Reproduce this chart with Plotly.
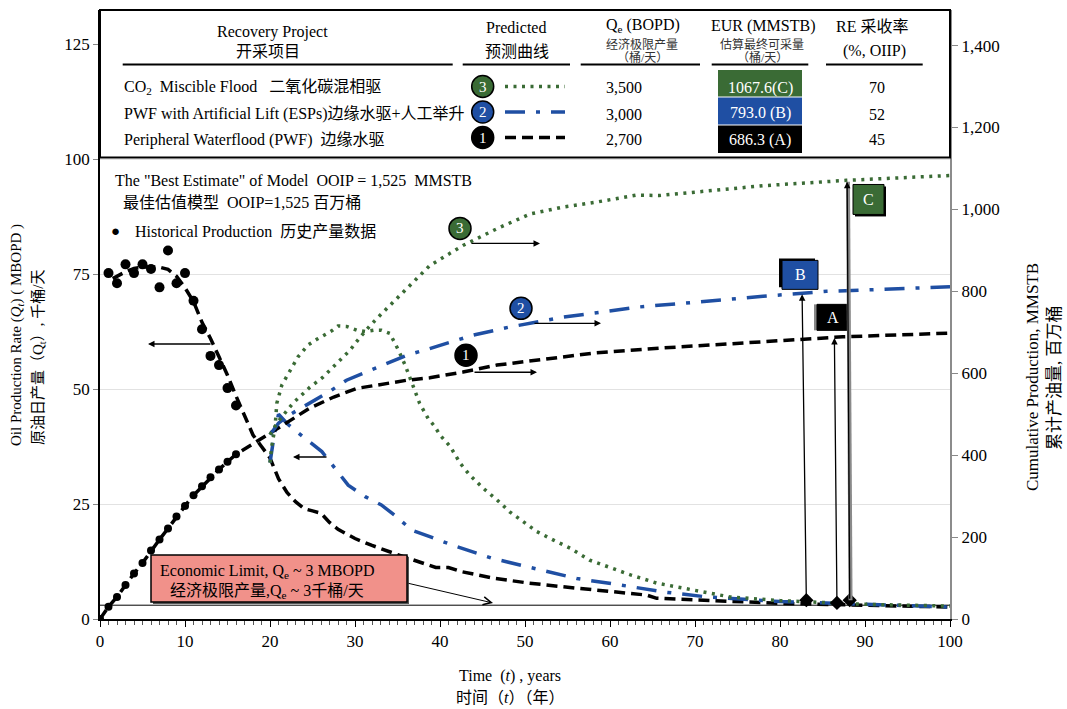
import plotly.graph_objects as go

# ---------------- data ----------------
hist_t = [1, 2, 3, 4, 5, 6, 7, 8, 9, 10, 11, 12, 13, 14, 15, 16]
hist_rate = [75.2, 73.0, 77.1, 75.2, 77.1, 76.1, 72.1, 80.1, 73.0, 75.2, 69.2, 63.0, 57.2, 55.2, 50.2, 46.4]
hist_cum_t = [0, 1, 2, 3, 4, 5, 6, 7, 8, 9, 10, 11, 12, 13, 14, 15, 16]
hist_cum = [0, 30, 54, 83, 111, 137, 167, 194, 221, 250, 276, 302, 324, 346, 365, 384, 402]

pwf_rate_t = [1.5, 2, 3, 4, 5, 6, 7, 8, 9, 10, 11, 12, 13, 14, 15, 16, 17, 18, 19, 20, 21, 22, 23, 24, 25, 26,
              27, 28, 30, 32, 35, 38, 39.5, 41, 42.5, 46.5, 50.5, 54.5, 58.5, 62.5, 64.3, 65.5, 70, 74, 80, 90, 100]
pwf_rate = [74, 74.5, 75.5, 76.2, 76.5, 76.6, 76.5, 76, 74.5, 72, 69, 64.5, 61, 57, 53, 48.5, 44, 40, 37.5, 35,
            30.5, 27.5, 25.5, 24, 23.5, 23, 21, 19.5, 17.5, 16, 14, 12, 11.2, 11.2, 10.3, 8.8, 7.8, 7.0, 6.3, 5.7,
            5.2, 4.5, 4.1, 3.8, 3.4, 3.0, 2.6]
pwf_fc_t = [17.4, 20, 22.4, 24.6, 27.5, 30.2, 33.3, 36.1, 38.8, 42.7, 46.7, 51.8, 58.4, 66.3, 74.1, 77.6, 87.4, 100]
pwf_fc_cum = [420, 453, 485, 514, 542, 563, 573, 583, 589, 603, 620, 633, 650, 662, 672, 676, 689, 698]

esp_rate_t = [20, 20.5, 21, 22, 23.9, 26.1, 27.8, 29.2, 31.2, 33.1, 34.9, 36.7, 38.8, 41.4, 46.1, 51, 56.1, 61.2,
              66.2, 71.4, 74.1, 80, 90, 100]
esp_rate = [34, 40, 44.5, 42.5, 39.6, 36.4, 32.4, 29.1, 26.6, 24.8, 22.2, 19.3, 17.9, 16.1, 13.2, 11, 8.8, 7.4,
            5.9, 4.8, 4.5, 3.8, 3.2, 2.6]
esp_cum_t = [20, 21, 22, 23.9, 26.9, 29, 31.4, 33.7, 36.1, 38.6, 41.1, 43.9, 48.2, 54.5, 59.2, 63.5, 68.6, 74.1,
             78, 85.5, 100]
esp_cum = [450, 478, 495, 518, 554, 583, 603, 624, 644, 659, 675, 693, 713, 737, 750, 762, 771, 782, 788, 800, 811]

co2_rate_t = [20, 20.2, 20.6, 20.8, 21.4, 21.8, 22.4, 23.3, 24.5, 25.5, 27.3, 28, 29, 30.2, 31.2, 32.2, 33.1, 34.1,
              34.5, 35.1, 35.9, 36.9, 37.6, 38.6, 39.4, 40, 41.2, 42.4, 43.5, 45.1, 46.7, 48.2, 49.8, 51.4, 53.3,
              55.3, 57.6, 59.6, 62.4, 65.5, 68.6, 71.8, 74.1, 80, 90, 100]
co2_rate = [34, 37.5, 41.8, 46.9, 50.9, 52.3, 54.1, 57, 59.6, 60.8, 62.7, 63.7, 63.6, 62.8, 62.5, 62.8, 62.8, 62.1,
            60.7, 58.5, 55.2, 50.5, 46.9, 43.6, 41.8, 40, 37.5, 33.8, 31.3, 28.4, 25.9, 23.3, 21.2, 19, 17.2,
            15.4, 12.8, 11.4, 9.6, 7.8, 6.7, 5.6, 4.8, 4.0, 3.2, 2.8]
co2_cum_t = [20, 20.8, 22.7, 24.7, 26.2, 27.9, 29.4, 30.6, 31.8, 33.3, 34.7, 36.5, 38.8, 42.7, 46.7, 50.6, 54.5,
             58.4, 63.1, 65.8, 70.2, 74.1, 78, 87.8, 100]
co2_cum = [450, 478, 527, 566, 590, 624, 656, 688, 717, 749, 778, 815, 863, 912, 953, 989, 1006, 1018, 1035, 1034,
           1042, 1050, 1058, 1071, 1083]

econ_limit = 3.0

# table rows (order: CO2, ESP, PWF)
projects = ["CO<sub>2</sub>\u00a0 Miscible Flood \u00a0 二氧化碳混相驱",
            "PWF with Artificial Lift (ESPs)边缘水驱+人工举升",
            "Peripheral Waterflood (PWF)\u00a0 边缘水驱"]
proj_ids = ["3", "2", "1"]
qe_bopd = ["3,500", "3,000", "2,700"]
eur_text = ["1067.6(C)", "793.0 (B)", "686.3 (A)"]
re_pct = ["70", "52", "45"]

# flags: A, B, C
flag_names = ["A", "B", "C"]
flag_eur = [686.3, 793.0, 1067.6]
flag_t_top = [86.4, 82.6, 87.9]
flag_t_bot = [86.7, 83.1, 88.2]
flag_q_bot = [3.5, 4.1, 4.1]

# ---------------- styles ----------------
FONT = "Liberation Serif, Noto Sans CJK SC, serif"
FONT_EN = "Liberation Serif, serif"
GREEN = "#3A6B35"
BLUE = "#1F4FA3"
PINK = "#F1918A"
Y1MAX = 132.4
Y2MAX = 1487.0
DASH_PWF = "11px,6px"
DASH_ESP = "20px,11px,4px,11px"
DASH_CO2 = "3px,5.5px"


def PX(px):
    return (px - 100) / 850.0


def PY(py):
    return (619 - py) / 609.0


def T(px):
    return (px - 100) / 8.5


def Q(py):
    return (619 - py) / 4.6


def C(py):
    return (619 - py) / 0.41


fig = go.Figure()

# cumulative curves (right axis)
fig.add_trace(go.Scatter(x=hist_cum_t + pwf_fc_t, y=hist_cum + pwf_fc_cum, yaxis="y2", mode="lines",
                         line=dict(color="black", width=3.5, dash=DASH_PWF)))
fig.add_trace(go.Scatter(x=esp_cum_t, y=esp_cum, yaxis="y2", mode="lines",
                         line=dict(color=BLUE, width=3.5, dash=DASH_ESP)))
fig.add_trace(go.Scatter(x=co2_cum_t, y=co2_cum, yaxis="y2", mode="lines",
                         line=dict(color=GREEN, width=3.5, dash=DASH_CO2)))
fig.add_trace(go.Scatter(x=hist_cum_t, y=hist_cum, yaxis="y2", mode="markers",
                         marker=dict(color="black", size=8)))

# rate curves (left axis)
fig.add_trace(go.Scatter(x=[0, 100], y=[econ_limit, econ_limit], mode="lines",
                         line=dict(color="black", width=1)))
fig.add_trace(go.Scatter(x=pwf_rate_t, y=pwf_rate, mode="lines",
                         line=dict(color="black", width=3.5, dash=DASH_PWF)))
fig.add_trace(go.Scatter(x=esp_rate_t, y=esp_rate, mode="lines",
                         line=dict(color=BLUE, width=3.5, dash=DASH_ESP)))
fig.add_trace(go.Scatter(x=co2_rate_t, y=co2_rate, mode="lines",
                         line=dict(color=GREEN, width=3.5, dash=DASH_CO2)))
fig.add_trace(go.Scatter(x=hist_t, y=hist_rate, mode="markers",
                         marker=dict(color="black", size=10)))
fig.add_trace(go.Scatter(x=flag_t_bot, y=flag_q_bot, mode="markers",
                         marker=dict(color="black", size=11, symbol="diamond")))

shapes = []
annotations = []


def ann(text, x, y, xref="paper", yref="paper", size=16, color="black", xanchor="center", yanchor="middle",
        family=FONT, **kw):
    d = dict(text=text, x=x, y=y, xref=xref, yref=yref, showarrow=False, xanchor=xanchor, yanchor=yanchor,
             font=dict(family=family, size=size, color=color))
    d.update(kw)
    annotations.append(d)


def arrow(x_head, y_head, x_tail, y_tail, yref="y", head=2, width=1.3, size=1.0, color="black"):
    annotations.append(dict(text="", x=x_head, y=y_head, ax=x_tail, ay=y_tail, xref="x", yref=yref,
                            axref="x", ayref=yref, showarrow=True, arrowhead=head, arrowsize=size,
                            arrowwidth=width, arrowcolor=color, standoff=0, startstandoff=0))


def circle(x, y, xref, yref, fill, label, d=22):
    shapes.append(dict(type="circle", xref=xref, yref=yref, xsizemode="pixel", ysizemode="pixel",
                       xanchor=x, yanchor=y, x0=-d / 2, x1=d / 2, y0=-d / 2, y1=d / 2,
                       fillcolor=fill, line=dict(color="black", width=1.5), layer="above"))
    ann(label, x, y, xref=xref, yref=yref, size=15, color="white", family=FONT_EN)


# ---------------- economic limit box ----------------
shapes.append(dict(type="rect", xref="x", yref="y", x0=T(153), x1=T(409), y0=Q(604), y1=Q(557),
                   fillcolor="#555555", line=dict(width=0), layer="above"))
shapes.append(dict(type="rect", xref="x", yref="y", x0=T(151), x1=T(407), y0=Q(602), y1=Q(555),
                   fillcolor=PINK, line=dict(color="black", width=1.5), layer="above"))
ann("Economic Limit, Q<sub>e</sub> ~ 3 MBOPD", T(267), Q(571), xref="x", yref="y", size=16)
ann("经济极限产量,Q<sub>e</sub> ~ 3千桶/天", T(267), Q(591), xref="x", yref="y", size=16)
arrow(T(493), Q(603), T(407), Q(583), head=5, width=1, size=1.6)

# ---------------- direction arrows ----------------
arrow(T(148), Q(344), T(212), Q(344))
arrow(T(293), Q(457), T(328), Q(457))
arrow(T(540), C(243), T(470), C(243), yref="y2")
arrow(T(601), C(323), T(533), C(323), yref="y2")
arrow(T(537), C(372), T(473), C(372), yref="y2")

# curve labels
circle(T(460), C(228), "x", "y2", GREEN, "3")
circle(T(521), C(308), "x", "y2", BLUE, "2")
circle(T(466), C(355), "x", "y2", "black", "1")

# ---------------- EUR flags ----------------
flag_boxes = {"A": (T(817), T(849), C(330), C(304), "black", "#888888", -3, 0),
              "B": (T(782), T(818), C(289), C(260), BLUE, "black", -3, 2),
              "C": (T(853), T(884), C(214), C(184), GREEN, "black", 2, -2)}
for name, t_top, t_bot, q_bot, eur in zip(flag_names, flag_t_top, flag_t_bot, flag_q_bot, flag_eur):
    y_bot = q_bot * Y2MAX / Y1MAX
    if name == "C":
        shapes.append(dict(type="line", xref="x", yref="y2", x0=t_bot + 0.1, x1=t_top + 0.1, y0=y_bot, y1=eur,
                           line=dict(color="#8a8a8a", width=4), layer="above"))
    arrow(t_top, eur, t_bot, y_bot, yref="y2", head=2, width=1.3)
    x0, x1, y0, y1, col, sh, dx, dy = flag_boxes[name]
    shapes.append(dict(type="rect", xref="x", yref="y2", x0=x0 + dx / 8.5, x1=x1 + dx / 8.5,
                       y0=y0 + dy / 0.41, y1=y1 + dy / 0.41, fillcolor=sh, line=dict(width=0), layer="above"))
    shapes.append(dict(type="rect", xref="x", yref="y2", x0=x0, x1=x1, y0=y0, y1=y1, fillcolor=col,
                       line=dict(color="black", width=1), layer="above"))
    ann(name, (x0 + x1) / 2, (y0 + y1) / 2, xref="x", yref="y2", size=16, color="white", family=FONT_EN)

# ---------------- in-plot texts ----------------
ann("The \"Best Estimate\" of Model\u00a0 OOIP = 1,525\u00a0 MMSTB", PX(113), PY(180), xanchor="left", size=16)
ann("最佳估值模型\u00a0 OOIP=1,525 百万桶", PX(121), PY(203), xanchor="left", size=16)
ann("●", PX(115), PY(231), size=15)
ann("Historical Production\u00a0 历史产量数据", PX(133), PY(231), xanchor="left", size=16)

# ---------------- table ----------------
shapes.append(dict(type="rect", xref="paper", yref="paper", x0=0, x1=1, y0=PY(157.5), y1=1,
                   fillcolor="white", line=dict(color="black", width=2), layer="above"))
for a, b in [(122.7, 452.7), (462.7, 570), (580.7, 700), (711.7, 808.3), (826, 922.7)]:
    shapes.append(dict(type="line", xref="paper", yref="paper", x0=PX(a), x1=PX(b), y0=PY(64.5), y1=PY(64.5),
                       line=dict(color="black", width=2), layer="above"))

ann("Recovery Project", PX(272), PY(32), size=16)
ann("开采项目", PX(268), PY(51), size=16)
ann("Predicted", PX(516), PY(28), size=16)
ann("预测曲线", PX(517), PY(51), size=16)
ann("Q<sub>e</sub> (BOPD)", PX(643), PY(26), size=16)
ann("经济极限产量", PX(642), PY(44.5), size=12, color="#333333")
ann("（桶/天）", PX(642), PY(57), size=12, color="#333333")
ann("EUR (MMSTB)", PX(763), PY(26), size=16)
ann("估算最终可采量", PX(762), PY(44.5), size=12, color="#333333")
ann("（桶/天）", PX(762), PY(57), size=12, color="#333333")
ann("RE 采收率", PX(872), PY(27), size=16)
ann("(%, OIIP)", PX(874), PY(51), size=16)

row_y = [88, 114, 140]
circ_y = [86.5, 112, 137.5]
row_colors = [GREEN, BLUE, "black"]
row_dash = [DASH_CO2, DASH_ESP, DASH_PWF]
box_y = [(70, 96.5), (97.5, 124.5), (125.5, 153)]
for i in range(3):
    ann(projects[i], PX(122), PY(row_y[i]), xanchor="left", size=16)
    circle(PX(482.7), PY(circ_y[i]), "paper", "paper", row_colors[i], proj_ids[i])
    shapes.append(dict(type="line", xref="paper", yref="paper", x0=PX(505), x1=PX(565),
                       y0=PY(circ_y[i]), y1=PY(circ_y[i]),
                       line=dict(color=row_colors[i], width=3.5, dash=row_dash[i]), layer="above"))
    ann(qe_bopd[i], PX(624), PY(row_y[i]), size=16, family=FONT_EN)
    shapes.append(dict(type="rect", xref="paper", yref="paper", x0=PX(718), x1=PX(802),
                       y0=PY(box_y[i][1]), y1=PY(box_y[i][0]), fillcolor=row_colors[i],
                       line=dict(width=0), layer="above"))
    ann(eur_text[i], PX(760), PY(row_y[i] - 0.5), size=16, color="white", family=FONT_EN)
    ann(re_pct[i], PX(877), PY(row_y[i]), size=16, family=FONT_EN)

# ---------------- axis titles ----------------
ann("Oil Production Rate (<i>Q</i><sub><i>t</i></sub>) ( MBOPD )", PX(17), PY(335), size=15, textangle=-90,
    family=FONT_EN)
ann("原油日产量（Q<sub>t</sub>）, 千桶/天", PX(39), PY(358), size=15, textangle=-90)
ann("Cumulative Production, MMSTB", PX(1032), PY(377), size=17, textangle=-90, family=FONT_EN)
ann("累计产油量, 百万桶", PX(1055), PY(378), size=17, textangle=-90)
ann("Time\u00a0 (<i>t</i>) , years", PX(510), PY(676), size=16, family=FONT_EN)
ann("时间（<i>t</i>）（年）", PX(510), PY(697), size=16)

fig.update_layout(
    width=1067, height=709,
    margin=dict(l=100, r=117, t=10, b=90),
    paper_bgcolor="white", plot_bgcolor="white",
    showlegend=False,
    font=dict(family=FONT, size=17, color="black"),
    xaxis=dict(range=[0, 100], dtick=10, ticks="outside", ticklen=6, tickcolor="black", tickwidth=1,
               showline=True, linecolor="black", linewidth=1.5, showgrid=False, zeroline=False,
               minor=dict(dtick=1, ticks="outside", ticklen=4, tickcolor="#555555", tickwidth=1),
               tickfont=dict(family=FONT_EN, size=17)),
    yaxis=dict(range=[0, Y1MAX], tickvals=[0, 25, 50, 75, 100, 125], ticks="outside", ticklen=5,
               tickcolor="#888888", showline=True, linecolor="black", linewidth=1.5, showgrid=True,
               gridcolor="#e2e2e2", gridwidth=1, zeroline=False, tickfont=dict(family=FONT_EN, size=17)),
    yaxis2=dict(range=[0, Y2MAX], tickvals=[0, 200, 400, 600, 800, 1000, 1200, 1400], tickformat=",",
                overlaying="y", side="right", ticks="outside", ticklen=6, tickcolor="#888888",
                showline=True, linecolor="#8c8c8c", linewidth=2, showgrid=False, zeroline=False,
                tickfont=dict(family=FONT_EN, size=17)),
    shapes=shapes,
    annotations=annotations,
)

fig.write_html("out.html")
